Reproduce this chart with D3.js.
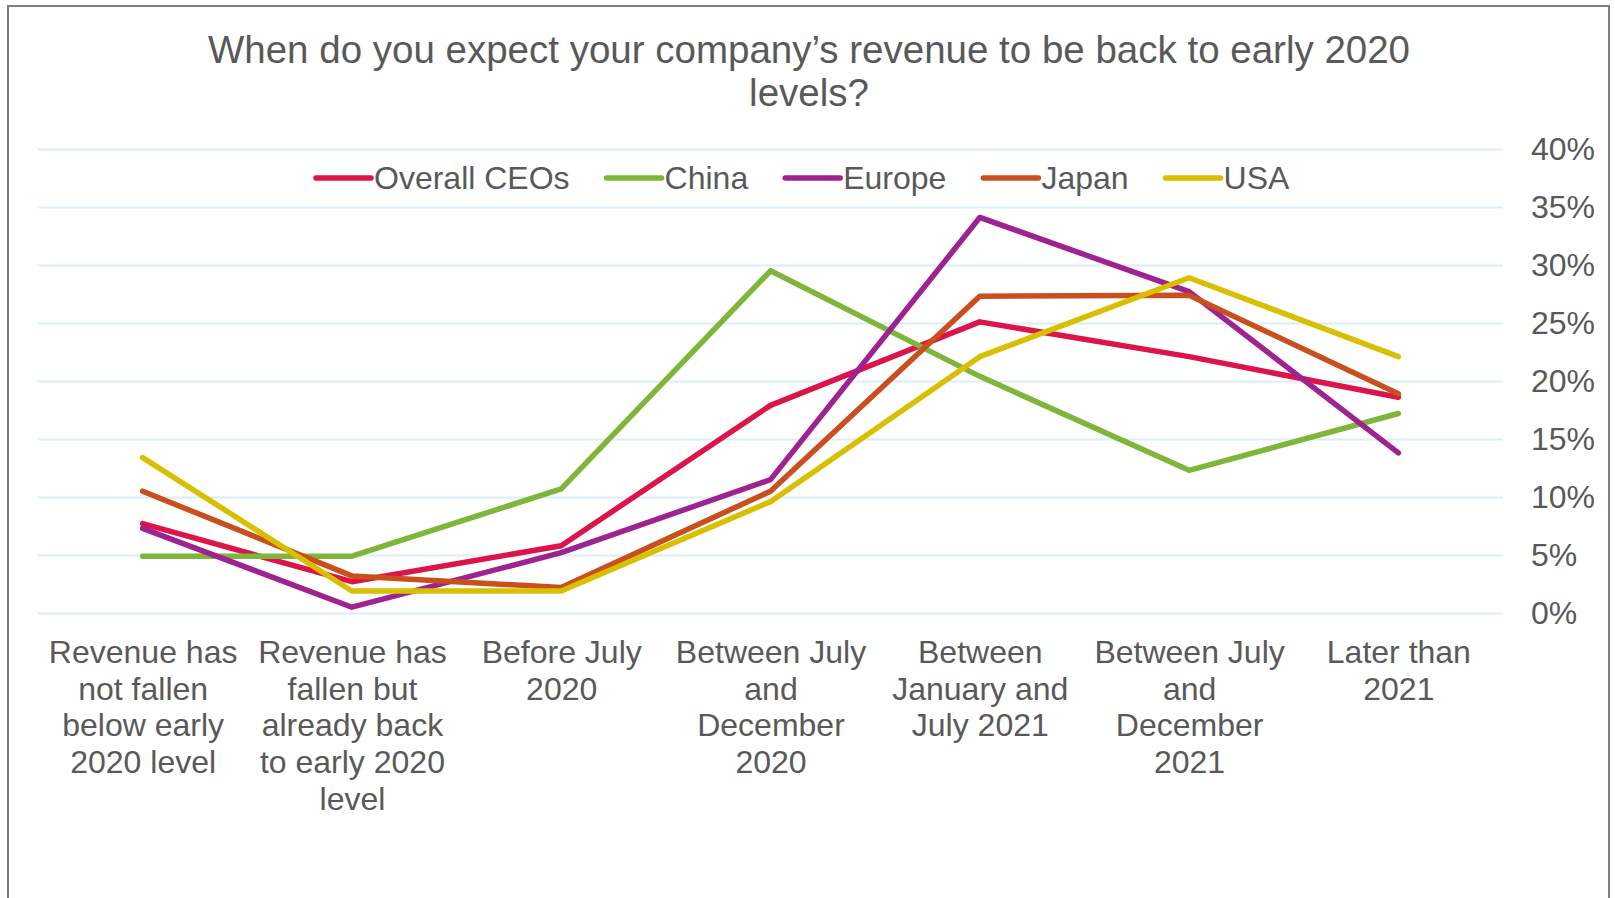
<!DOCTYPE html>
<html>
<head>
<meta charset="utf-8">
<script src="https://cdn.jsdelivr.net/npm/d3@7"></script>
<style>
  body { margin: 0; background: #fff; }
  svg { display: block; font-family: "Liberation Sans", Arial, sans-serif; }
</style>
</head>
<body>
<svg id="chart" width="1615" height="898"></svg>
<script>
// categories (x axis), already split the way the labels wrap
const categories = [
    ["Revenue has", "not fallen", "below early", "2020 level"],
    ["Revenue has", "fallen but", "already back", "to early 2020", "level"],
    ["Before July", "2020"],
    ["Between July", "and", "December", "2020"],
    ["Between", "January and", "July 2021"],
    ["Between July", "and", "December", "2021"],
    ["Later than", "2021"]
];
const seriesNames = ["Overall CEOs", "China", "Europe", "Japan", "USA"];
const seriesColors = ["#DC1449", "#7FB539", "#9E2290", "#C94F1D", "#D8C000"];

// values in %
const overallCEOs = [7.7, 2.7, 5.8, 17.9, 25.1, 22.1, 18.6];
const china       = [4.9, 4.9, 10.7, 29.5, 20.4, 12.3, 17.2];
const europe      = [7.3, 0.5, 5.2, 11.5, 34.1, 27.7, 13.8];
const japan       = [10.5, 3.2, 2.2, 10.5, 27.3, 27.4, 18.9];
const usa         = [13.4, 1.9, 1.9, 9.6, 22.1, 28.9, 22.1];
const yTicks = [0, 5, 10, 15, 20, 25, 30, 35, 40];

const allSeries = [overallCEOs, china, europe, japan, usa];

const svg = d3.select("#chart");
const textCol = "#595959";

// outer frame
svg.append("rect")
    .attr("x", 8).attr("y", 6)
    .attr("width", 1601).attr("height", 920)
    .attr("fill", "none")
    .attr("stroke", "#7F7F7F")
    .attr("stroke-width", 2);

// title
const title = svg.append("text")
    .attr("x", 809)
    .attr("text-anchor", "middle")
    .attr("fill", textCol)
    .attr("font-size", 38.5);
title.append("tspan").attr("x", 809).attr("y", 63)
    .text("When do you expect your company\u2019s revenue to be back to early 2020");
title.append("tspan").attr("x", 809).attr("y", 106).text("levels?");

const x = d3.scalePoint()
    .domain(d3.range(categories.length))
    .range([38, 1503])
    .padding(0.5);

const y = d3.scaleLinear()
    .domain([0, 40])
    .range([613, 149]);

// y axis on the right with gridlines
const yAxis = svg.append("g")
    .attr("transform", "translate(1503,0)")
    .call(d3.axisRight(y)
        .tickValues(yTicks)
        .tickSize(-(1503 - 38))
        .tickPadding(28)
        .tickFormat(d => d + "%"));
yAxis.select(".domain").remove();
yAxis.selectAll(".tick line")
    .attr("stroke", "#D9EEFA")
    .attr("stroke-width", 2);
yAxis.selectAll(".tick text")
    .attr("fill", textCol)
    .attr("font-size", 32)
    .attr("font-family", "Liberation Sans, Arial, sans-serif");

// x axis labels
const xAxis = svg.append("g")
    .attr("transform", "translate(0,613)")
    .call(d3.axisBottom(x).tickSize(0).tickFormat(""));
xAxis.select(".domain").remove();
xAxis.selectAll(".tick text").remove();
xAxis.selectAll(".tick").each(function (d) {
    const t = d3.select(this).append("text")
        .attr("text-anchor", "middle")
        .attr("fill", textCol)
        .attr("font-size", 32);
    categories[d].forEach((line, i) => {
        t.append("tspan")
            .attr("x", 0)
            .attr("y", 50 + i * 36.7)
            .text(line);
    });
});

// lines
const line = d3.line()
    .x((d, i) => x(i))
    .y(d => y(d));

svg.append("g").selectAll("path")
    .data(allSeries)
    .enter().append("path")
    .attr("d", line)
    .attr("fill", "none")
    .attr("stroke", (d, i) => seriesColors[i])
    .attr("stroke-width", 5.5)
    .attr("stroke-linejoin", "round")
    .attr("stroke-linecap", "round");

// legend
const legend = svg.append("g");
let lx = 316;
seriesNames.forEach((name, i) => {
    legend.append("line")
        .attr("x1", lx).attr("x2", lx + 55)
        .attr("y1", 178).attr("y2", 178)
        .attr("stroke", seriesColors[i])
        .attr("stroke-width", 5.5)
        .attr("stroke-linecap", "round");
    const t = legend.append("text")
        .attr("x", lx + 58)
        .attr("y", 189)
        .attr("fill", textCol)
        .attr("font-size", 32)
        .text(name);
    lx = lx + 58 + t.node().getComputedTextLength() + 37;
});
</script>
</body>
</html>
